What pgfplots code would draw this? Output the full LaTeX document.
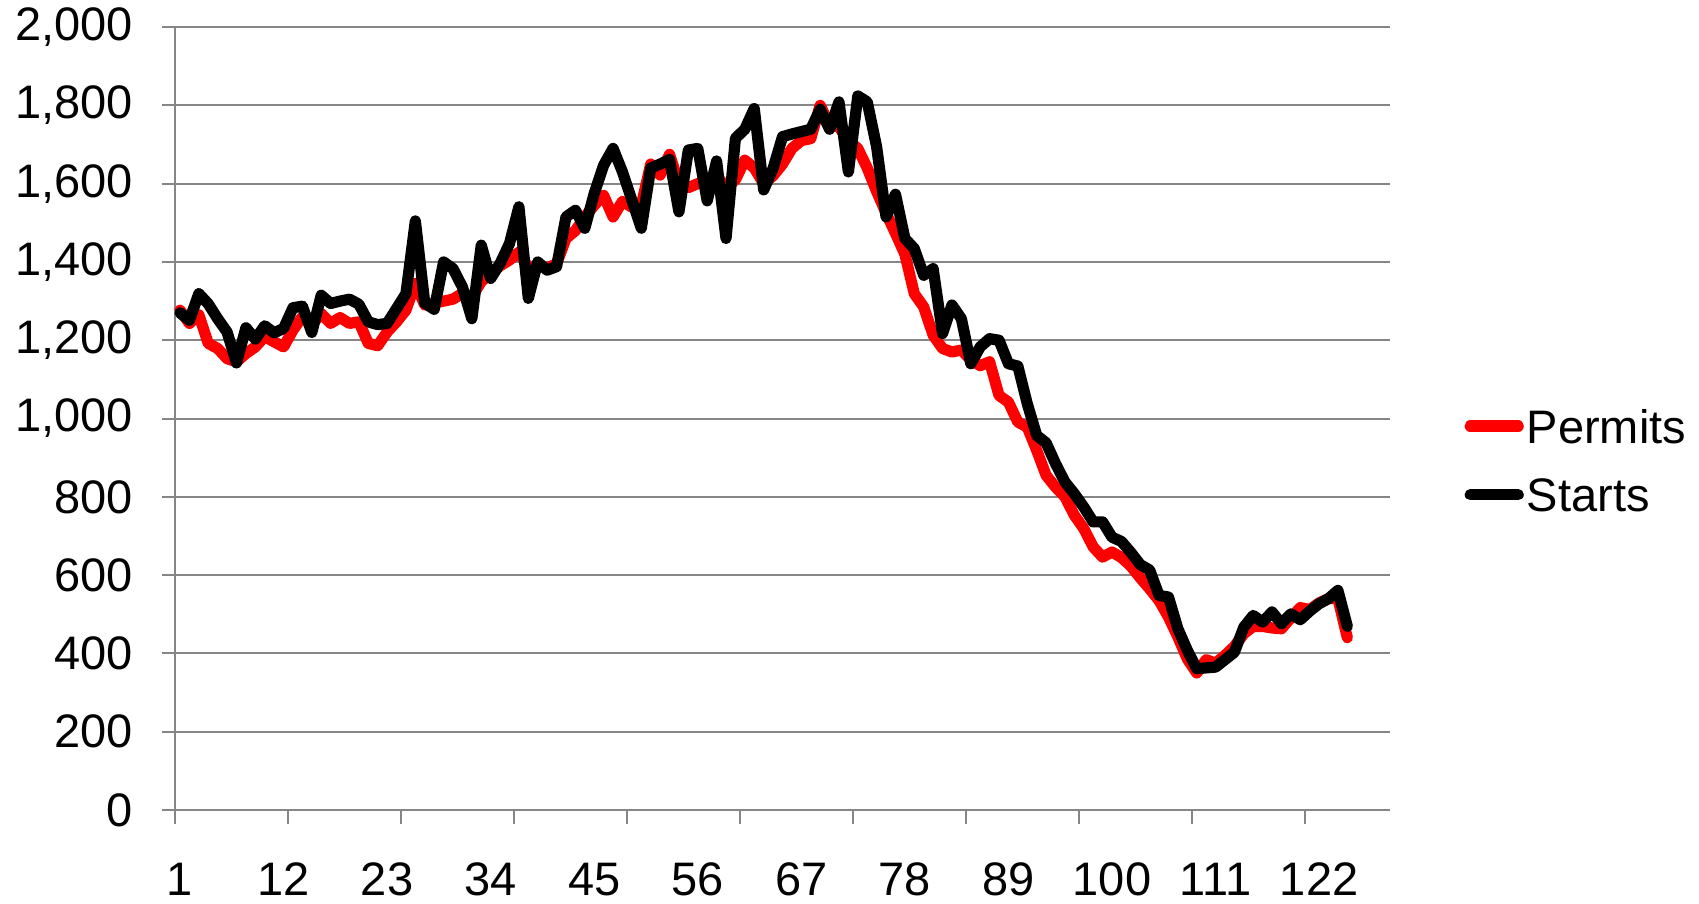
\documentclass[border=0pt]{standalone}
\usepackage{fontspec}
\setmainfont{Liberation Sans}
\usepackage{pgfplots}
\usepackage{pgfplotstable}
\pgfplotsset{compat=1.18}
\definecolor{gridgray}{RGB}{134,134,134}
\pgfplotstableread{
k permits starts
1 1277 1270
2 1243 1251
3 1265 1319
4 1192 1293
5 1179 1255
6 1153 1221
7 1145 1142
8 1166 1232
9 1183 1203
10 1209 1237
11 1196 1219
12 1183 1230
13 1226 1283
14 1260 1287
15 1240 1220
16 1268 1315
17 1243 1294
18 1258 1300
19 1243 1305
20 1247 1292
21 1192 1247
22 1186 1240
23 1221 1243
24 1247 1281
25 1277 1319
26 1345 1505
27 1290 1295
28 1295 1279
29 1300 1400
30 1305 1383
31 1320 1336
32 1310 1255
33 1350 1443
34 1370 1358
35 1390 1396
36 1405 1447
37 1425 1541
38 1385 1307
39 1390 1400
40 1385 1379
41 1395 1388
42 1460 1515
43 1480 1532
44 1515 1486
45 1545 1575
46 1570 1647
47 1515 1690
48 1555 1630
49 1540 1558
50 1545 1486
51 1650 1640
52 1622 1650
53 1675 1662
54 1600 1528
55 1590 1686
56 1600 1690
57 1610 1556
58 1620 1658
59 1590 1460
60 1610 1716
61 1660 1739
62 1640 1792
63 1600 1584
64 1620 1639
65 1650 1720
66 1690 1727
67 1710 1733
68 1715 1739
69 1800 1790
70 1750 1739
71 1745 1809
72 1710 1630
73 1690 1824
74 1640 1809
75 1580 1694
76 1525 1515
77 1473 1573
78 1420 1460
79 1319 1434
80 1285 1366
81 1213 1383
82 1179 1217
83 1170 1290
84 1175 1255
85 1150 1140
86 1135 1183
87 1145 1204
88 1059 1200
89 1042 1140
90 991 1134
91 978 1038
92 919 957
93 855 938
94 825 885
95 800 838
96 753 808
97 719 774
98 672 736
99 646 736
100 659 697
101 645 686
102 623 658
103 593 627
104 565 613
105 535 548
106 493 544
107 442 463
108 386 408
109 350 361
110 384 363
111 375 365
112 395 384
113 418 403
114 450 467
115 469 497
116 469 480
117 465 506
118 463 476
119 491 501
120 517 486
121 512 508
122 529 527
123 540 540
124 540 561
125 440 469
}\datatable

\begin{document}
\begin{tikzpicture}
\begin{axis}[
  at={(87.65pt,47pt)}, anchor=south west,
  width=607.2pt, height=391.45pt, scale only axis,
  xmin=0.5, xmax=129.5, ymin=0, ymax=2000,
  axis lines=left,
  axis line style={-, draw=gridgray, line width=1pt},
  ymajorgrids,
  grid style={draw=gridgray, line width=1pt},
  tick align=outside,
  major tick length=6.8pt,
  tick style={draw=gridgray, line width=1pt},
  ytick={0,200,...,2000},
  xtick={1,12,...,122},
  xtick style={draw=none},
  extra x ticks={0.5,12.5,...,120.5},
  extra x tick labels={},
  extra x tick style={xtick style={draw=gridgray, line width=1pt}, grid=none},
  /pgf/number format/assume math mode=true,
  /pgf/number format/1000 sep={,},
  ticklabel style={font=\fontsize{23.5pt}{28pt}\selectfont, inner sep=0pt},
  yticklabel style={anchor=east, xshift=-14.3pt},
  xticklabel style={anchor=north, yshift=-19.5pt},
  legend style={
    at={(1.0617,0.5333)}, anchor=north west,
    draw=none, fill=none, inner sep=0pt, outer sep=0pt,
    row sep=9.1pt, column sep=1.5pt,
    font=\fontsize{23.5pt}{28pt}\selectfont,
    nodes={inner sep=0pt, outer sep=0pt, text height=17pt, text depth=0pt},
  },
  legend cell align=left,
  legend image code/.code={
    \path[draw=none] (0pt,0pt) rectangle (24pt,16.8pt);
    \draw[#1, line cap=round] (0pt,0pt) -- (24pt,0pt);},
  clip=false,
]
\addplot[red, line width=5.6pt, line join=round, line cap=round] table[x=k, y=permits] {\datatable};
\addlegendentry{Permits}
\addplot[black, line width=5.6pt, line join=round, line cap=round] table[x=k, y=starts] {\datatable};
\addlegendentry{Starts}
\end{axis}
\pgfresetboundingbox
\path[use as bounding box] (0,0) rectangle (849.5pt,452pt);
\end{tikzpicture}
\end{document}
